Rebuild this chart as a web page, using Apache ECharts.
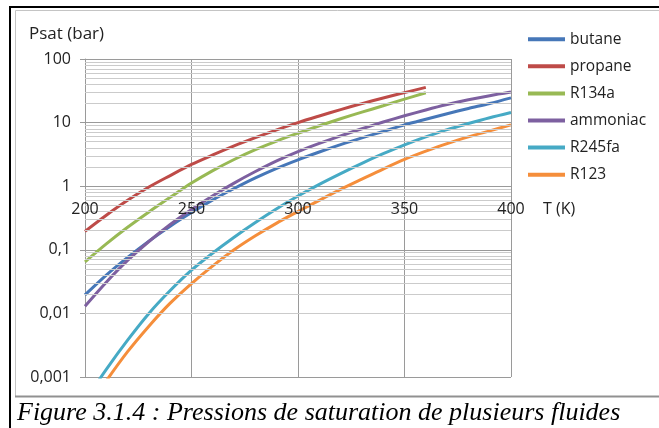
<!DOCTYPE html>
<html>
<head>
<meta charset="utf-8">
<title>Pressions de saturation</title>
<script src="https://cdn.jsdelivr.net/npm/echarts@6/dist/echarts.min.js"></script>
<style>
  html, body { margin: 0; padding: 0; background: #fff; }
  #chart { width: 659px; height: 428px; }
</style>
</head>
<body>
<div id="chart"></div>
<script>
// temperatures (K)
const temps = [200, 210, 220, 230, 240, 250, 260, 270, 280, 290, 300,
  310, 320, 330, 340, 350, 360, 370, 380, 390, 400];

// saturation pressures (bar)
const butane = [0.0195, 0.040, 0.076, 0.137, 0.235, 0.385, 0.61, 0.92, 1.35, 1.91, 2.6,
  3.45, 4.5, 5.75, 7.25, 9.2, 11.3, 13.8, 16.7, 20.0, 24.5];
const propane = [0.195, 0.35, 0.60, 0.97, 1.47, 2.2, 3.1, 4.3, 5.8, 7.7, 10.0,
  12.7, 16.0, 19.9, 24.4, 29.6, 35.8];
const r134a = [0.0646, 0.124, 0.226, 0.394, 0.668, 1.12, 1.76, 2.63, 3.76, 5.13, 6.81,
  8.91, 11.5, 14.6, 18.4, 23.4, 29.5];
const ammoniac = [0.013, 0.031, 0.068, 0.135, 0.25, 0.43, 0.71, 1.12, 1.7, 2.5, 3.5,
  4.7, 6.2, 8.0, 10.2, 12.8, 15.8, 19.2, 22.8, 26.5, 30.2];
const r245fa = [0.00042, 0.00132, 0.0038, 0.010, 0.0229, 0.0479, 0.0891, 0.158, 0.269, 0.442, 0.70,
  1.07, 1.58, 2.29, 3.24, 4.47, 5.96, 7.76, 9.66, 11.9, 14.4];
const r123 = [0.00028, 0.00087, 0.0025, 0.0063, 0.0145, 0.0295, 0.056, 0.10, 0.166, 0.263, 0.40,
  0.60, 0.89, 1.29, 1.86, 2.63, 3.55, 4.68, 5.96, 7.41, 9.2];

const names = ['butane', 'propane', 'R134a', 'ammoniac', 'R245fa', 'R123'];
const values = [butane, propane, r134a, ammoniac, r245fa, r123];
const colors = ['#4677b8', '#be4b48', '#98b954', '#7d60a0', '#46aac5', '#f58e3b'];

// axis ticks
const yLabels = ['0,001', '0,01', '0,1', '1', '10', '100'];
const decades = [0.001, 0.01, 0.1, 1, 10];
const minorSteps = [2, 3, 4, 5, 6, 7, 8, 9];

const minorLines = [];
decades.forEach(d => minorSteps.forEach(m => minorLines.push({ yAxis: +(d * m).toPrecision(3) })));

const font = '"Open Sans", Lato, sans-serif';
const textColor = '#222';
const gridColor = '#9a9a9a';

const chart = echarts.init(document.getElementById('chart'), null, { renderer: 'canvas' });

const series = names.map((n, i) => ({
  name: n,
  type: 'line',
  data: values[i].map((v, k) => [temps[k], v]),
  smooth: 0.3,
  showSymbol: false,
  clip: true,
  z: 3,
  lineStyle: { width: 3, color: colors[i] },
  itemStyle: { color: colors[i] }
}));

// minor horizontal grid (2..9 of each decade)
series.unshift({
  name: 'minor',
  type: 'line',
  data: [],
  z: 1,
  silent: true,
  markLine: {
    silent: true,
    symbol: ['none', 'none'],
    label: { show: false },
    lineStyle: { color: '#cbcbcb', width: 1, type: 'solid' },
    data: minorLines
  }
});

const option = {
  animation: false,
  backgroundColor: '#fff',
  title: {
    text: 'Psat (bar)',
    left: 24,
    top: 21,
    textStyle: { fontFamily: font, fontSize: 17, fontWeight: 'normal', color: textColor }
  },
  legend: {
    data: names,
    orient: 'vertical',
    left: 528,
    top: 31,
    padding: 0,
    icon: 'rect',
    itemWidth: 37,
    itemHeight: 4,
    itemGap: 10.7,
    textStyle: { fontFamily: font, fontSize: 15.5, lineHeight: 16.4, color: textColor }
  },
  grid: { left: 85, right: 148, top: 59, bottom: 51 },
  xAxis: [
    {
      // vertical grid lines, behind the curves
      type: 'value',
      min: 200,
      max: 400,
      interval: 50,
      axisLine: { show: false },
      axisTick: { show: false },
      axisLabel: { show: false },
      splitLine: { show: true, lineStyle: { color: gridColor, width: 1 } }
    },
    {
      // labels drawn at P = 1 bar, above the curves
      type: 'value',
      position: 'bottom',
      min: 200,
      max: 400,
      interval: 50,
      offset: -191,
      z: 10,
      name: 'T (K)',
      nameLocation: 'end',
      nameGap: 32,
      nameTextStyle: {
        fontFamily: font, fontSize: 16, color: textColor,
        align: 'left', verticalAlign: 'top', padding: [15, 0, 0, 0]
      },
      axisLine: { show: false },
      axisTick: { show: false },
      axisLabel: { margin: 15, fontFamily: font, fontSize: 16, color: textColor },
      splitLine: { show: false }
    }
  ],
  yAxis: {
    type: 'log',
    logBase: 10,
    min: 0.001,
    max: 100,
    axisLine: { show: true, lineStyle: { color: gridColor, width: 1 } },
    axisTick: { show: true, length: 5, lineStyle: { color: gridColor } },
    axisLabel: {
      margin: 14,
      fontFamily: font,
      fontSize: 16,
      color: textColor,
      formatter: v => yLabels[Math.round(Math.log10(v)) + 3]
    },
    splitLine: { show: true, lineStyle: { color: gridColor, width: 1 } }
  },
  graphic: [
    { type: 'rect', shape: { x: 15.5, y: 10.5, width: 700, height: 386 },
      style: { fill: 'none', stroke: '#c4c4c4', lineWidth: 1 }, z: 0 },
    { type: 'line', shape: { x1: 15, y1: 396.5, x2: 659, y2: 396.5 },
      style: { stroke: '#919191', lineWidth: 2 } },
    { type: 'line', shape: { x1: 9, y1: 7, x2: 659, y2: 7 },
      style: { stroke: '#000', lineWidth: 2 } },
    { type: 'line', shape: { x1: 10, y1: 6, x2: 10, y2: 428 },
      style: { stroke: '#000', lineWidth: 2 } },
    { type: 'text', left: 17, top: 400,
      style: {
        text: 'Figure 3.1.4 : Pressions de saturation de plusieurs fluides',
        font: 'italic 26px "Liberation Serif", "Times New Roman", serif',
        fill: '#000'
      } }
  ],
  series: series
};

chart.setOption(option);
</script>
</body>
</html>
